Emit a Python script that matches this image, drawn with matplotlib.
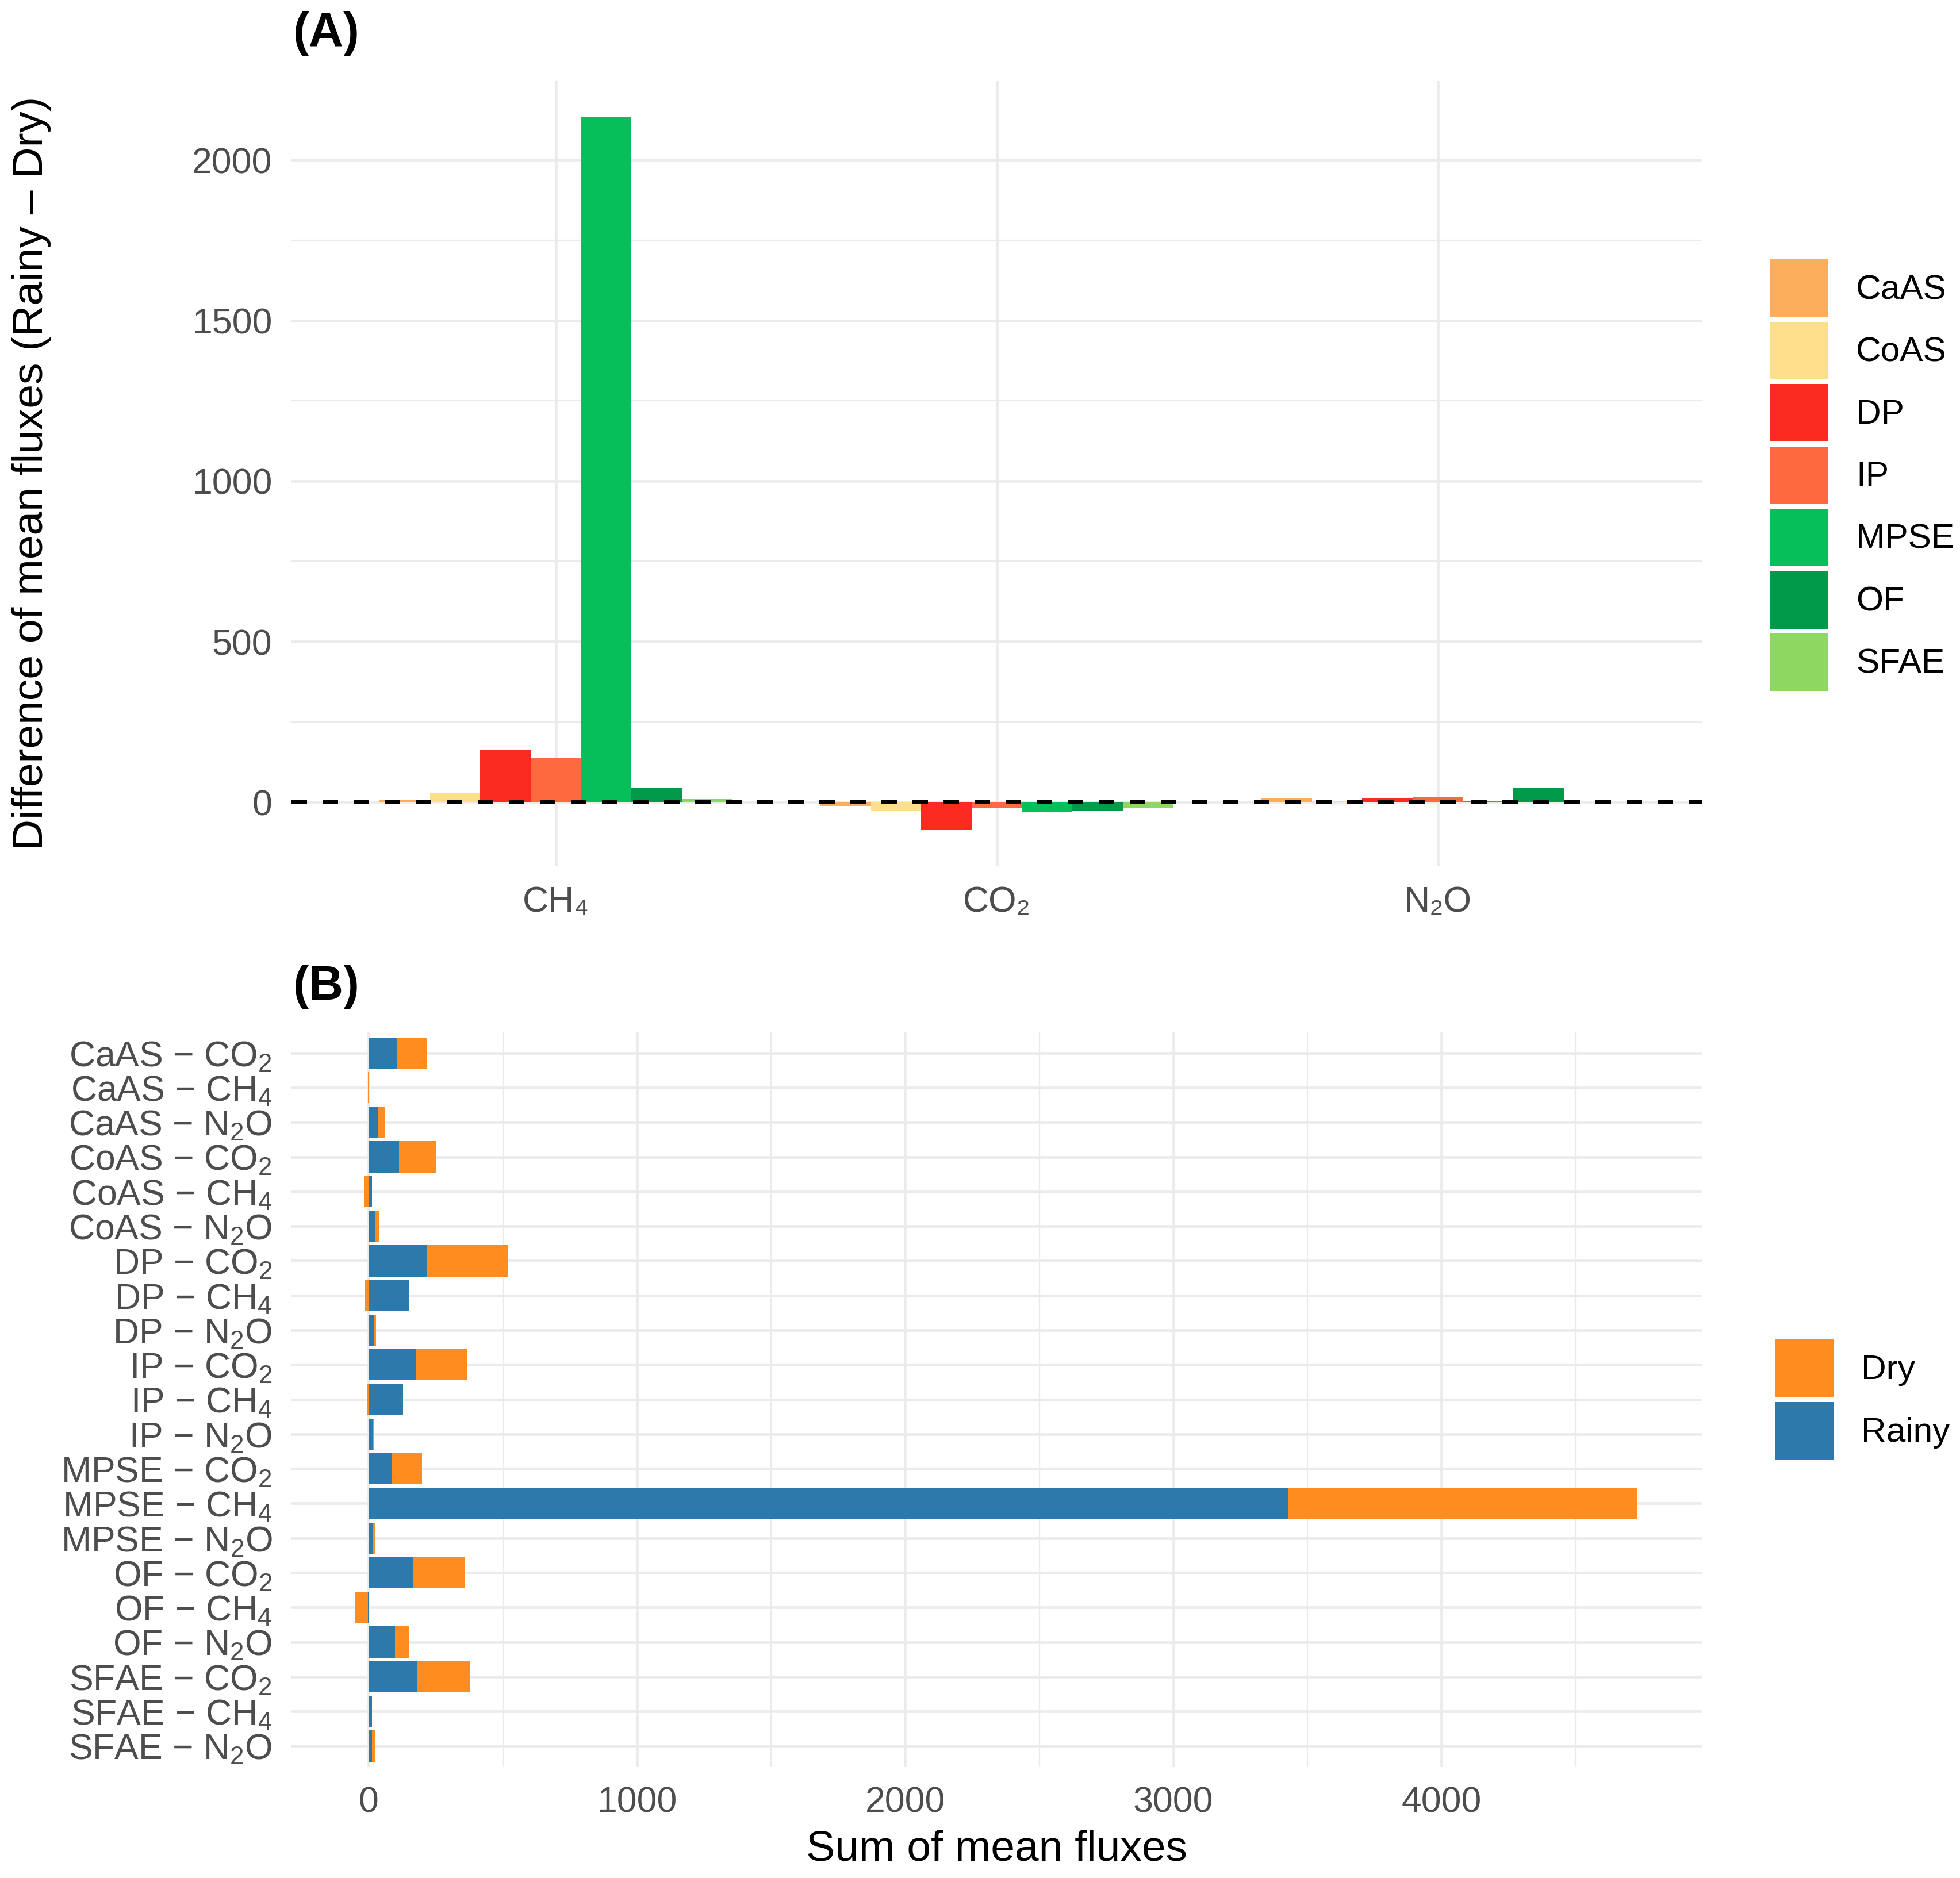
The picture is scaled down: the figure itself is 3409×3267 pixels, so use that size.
import numpy as np
import matplotlib
matplotlib.use("Agg")
import matplotlib.pyplot as plt
from matplotlib.patches import Patch

plt.rcParams['font.family'] = ['Liberation Sans', 'DejaVu Sans']
plt.rcParams['mathtext.fontset'] = 'custom'
plt.rcParams['mathtext.rm'] = 'Liberation Sans'
plt.rcParams['mathtext.it'] = 'Liberation Sans:italic'
plt.rcParams['mathtext.bf'] = 'Liberation Sans:bold'
plt.rcParams['mathtext.sf'] = 'Liberation Sans'

# ---------------- data ----------------
sites = ['CaAS', 'CoAS', 'DP', 'IP', 'MPSE', 'OF', 'SFAE']
site_colors = ['#FDAE5D', '#FEDF89', '#FB2B22', '#FF693F', '#06BE5A', '#009A4A', '#8ED862']

# Panel A: difference of mean fluxes (Rainy - Dry), per gas, per site
gases_a = ['CH\u2084', 'CO\u2082', 'N\u2082O']
diff_ch4 = [6, 29, 162, 137, 2135, 43, 10]
diff_co2 = [-12, -28, -88, -17, -32, -29, -20]
diff_n2o = [11, 2, 12, 14, 5, 46, 1]

# Panel B: sum of mean fluxes, site x gas (gas order CO2, CH4, N2O)
gases_b = ['CO$_\\mathrm{2}$', 'CH$_\\mathrm{4}$', 'N$_\\mathrm{2}$O']
rainy = [104, 2, 35,
         112, 11, 22,
         215, 150, 19,
         174, 128, 16,
         84, 3430, 14,
         165, -3, 97,
         179, 11, 11]
dry = [114, -2, 25,
       137, -19, 16,
       303, -14, 8,
       194, -8, 2,
       115, 1298, 8,
       193, -48, 52,
       197, 1, 14]
season_labels = ['Dry', 'Rainy']
season_colors = ['#FF8C1F', '#2C79AC']

# ---------------- figure ----------------
W, H = 3409, 3267
fig = plt.figure(figsize=(W / 300, H / 300), dpi=300)

grid_c = '#EBEBEB'
tick_c = '#4D4D4D'
tick_fs = 15
title_fs = 18
maj_lw = 1.1
min_lw = 0.55

axA = fig.add_axes([0.1486, 0.5389, 0.8686 - 0.1486, 0.9568 - 0.5389])
axB = fig.add_axes([0.1486, 0.0592, 0.8686 - 0.1486, 0.4504 - 0.0592])

for ax in (axA, axB):
    for s in ax.spines.values():
        s.set_visible(False)
    ax.tick_params(length=0, labelsize=tick_fs, labelcolor=tick_c, pad=8)
    ax.set_axisbelow(True)

# ---- Panel A ----
diffs = np.array([diff_ch4, diff_co2, diff_n2o], dtype=float)
ng = len(gases_a)
ns = len(sites)
bw = 0.8 / ns
xg = np.arange(1, ng + 1)
for j, site in enumerate(sites):
    axA.bar(xg + (j - (ns - 1) / 2) * bw, diffs[:, j], width=bw,
            color=site_colors[j], label=site, zorder=2, linewidth=0)
axA.set_xlim(0.4, ng + 0.6)
axA.set_ylim(-199, 2246)
axA.set_xticks(xg)
axA.set_xticklabels(gases_a)
axA.set_yticks([0, 500, 1000, 1500, 2000])
axA.set_yticks([250, 750, 1250, 1750], minor=True)
axA.tick_params(which='minor', length=0)
axA.grid(True, which='major', color=grid_c, linewidth=maj_lw, zorder=0)
axA.grid(True, which='minor', axis='y', color=grid_c, linewidth=min_lw, zorder=0)
axA.axhline(0, color='black', linewidth=1.8, linestyle=(0, (3.6, 3.6)), zorder=3)

fig.text(0.016, (0.5389 + 0.9568) / 2, 'Difference of mean fluxes (Rainy \u2013 Dry)',
         rotation=90, ha='center', va='center', fontsize=title_fs, color='black')
fig.text(0.1495, 0.982, '(A)', fontsize=20, fontweight='bold', ha='left', va='center')

leg_kw = dict(loc='center left', frameon=False, fontsize=14.5, handlelength=1.68,
              handleheight=2.17, labelspacing=0.14, handletextpad=0.8,
              borderpad=0, borderaxespad=0)

handlesA = [Patch(facecolor=c, edgecolor='none', label=s) for s, c in zip(sites, site_colors)]
fig.legend(handles=handlesA, bbox_to_anchor=(0.903, 0.747), **leg_kw)

# ---- Panel B ----
labels_b = [f'{s} \u2212 {g}' for s in sites for g in gases_b]
rainy_a = np.array(rainy, dtype=float)
dry_a = np.array(dry, dtype=float)
ypos = np.arange(len(labels_b))[::-1] + 1  # first label at top
rainy_left = np.zeros_like(rainy_a)
dry_left = np.where(np.sign(dry_a) == np.sign(rainy_a), rainy_a, 0.0)
axB.barh(ypos, rainy_a, left=rainy_left, height=0.9, color=season_colors[1],
         zorder=2, linewidth=0)
axB.barh(ypos, dry_a, left=dry_left, height=0.9, color=season_colors[0],
         zorder=2, linewidth=0)
axB.set_ylim(0.4, len(labels_b) + 0.6)
axB.set_xlim(-289, 4973)
axB.set_yticks(ypos)
axB.set_yticklabels(labels_b)
axB.set_xticks([0, 1000, 2000, 3000, 4000])
axB.set_xticks([500, 1500, 2500, 3500, 4500], minor=True)
axB.tick_params(which='minor', length=0)
axB.grid(True, which='major', color=grid_c, linewidth=maj_lw, zorder=0)
axB.grid(True, which='minor', axis='x', color=grid_c, linewidth=min_lw, zorder=0)
axB.set_xlabel('Sum of mean fluxes', fontsize=title_fs, color='black', labelpad=4)

fig.text(0.1495, 0.4744, '(B)', fontsize=20, fontweight='bold', ha='left', va='center')

handlesB = [Patch(facecolor=c, edgecolor='none', label=s) for s, c in zip(season_labels, season_colors)]
fig.legend(handles=handlesB, bbox_to_anchor=(0.9056, 0.2548), **leg_kw)

fig.savefig('out.png', dpi=300, facecolor='white')
